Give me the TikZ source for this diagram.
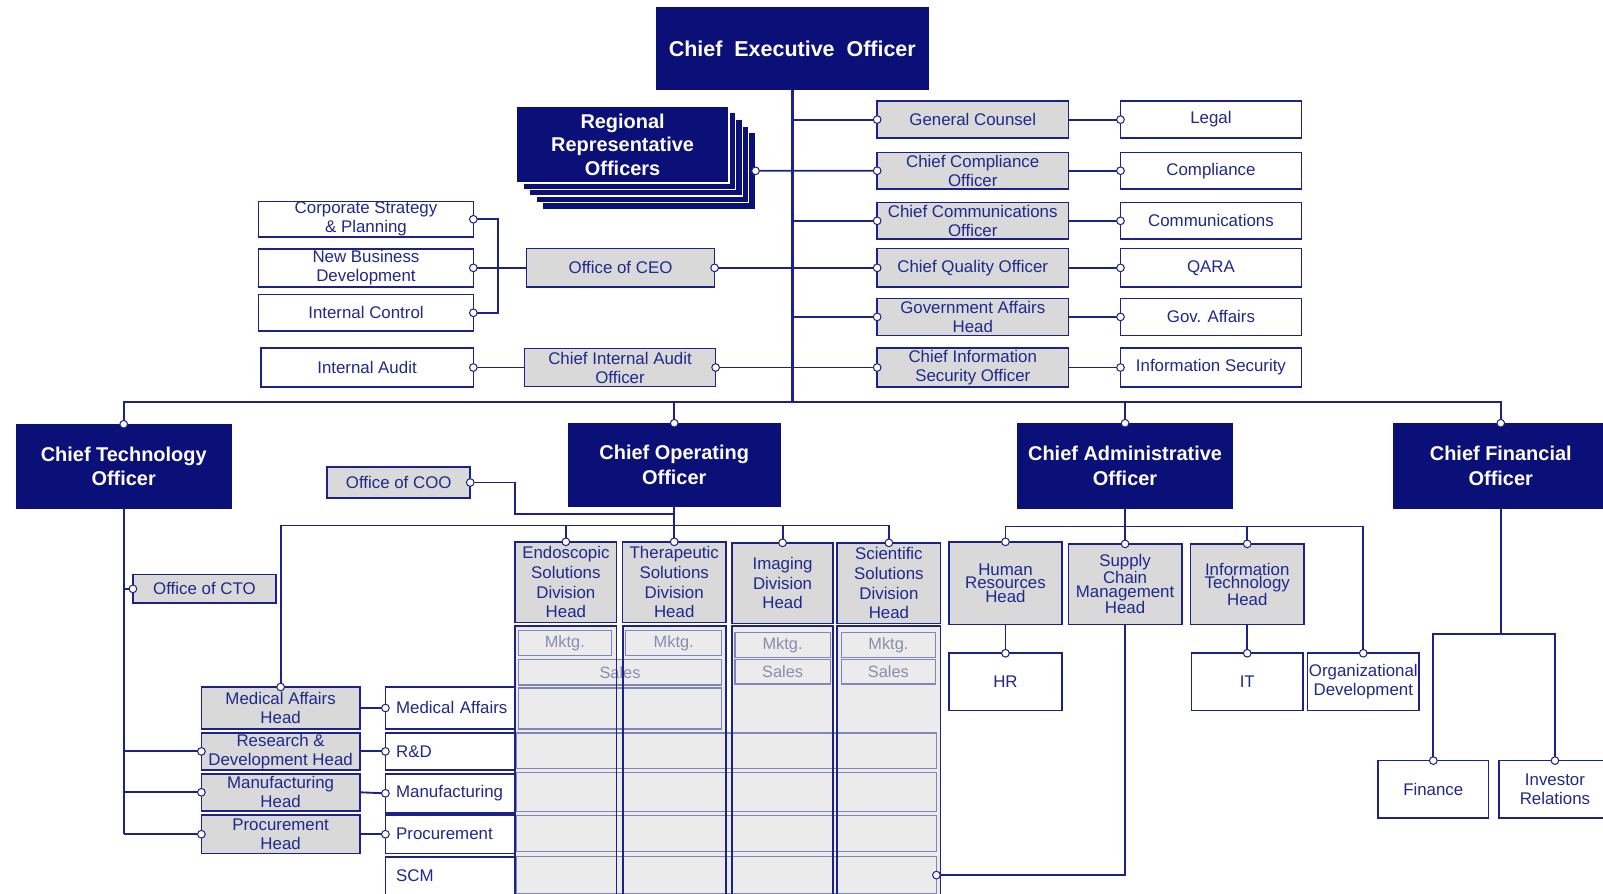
\documentclass[tikz,border=0pt]{standalone}
\usepackage{fontspec}
\setmainfont{Liberation Sans}
\usetikzlibrary{positioning}

\definecolor{navyfill}{RGB}{11,16,120}
\definecolor{navyline}{RGB}{28,34,134}
\definecolor{navytext}{RGB}{32,40,140}
\definecolor{headgray}{RGB}{217,217,217}
\definecolor{panelgray}{RGB}{235,235,235}
\definecolor{subline}{RGB}{128,134,186}
\definecolor{subtext}{RGB}{136,140,176}

\newcommand{\fsz}[2]{\fontsize{#1}{#2}\selectfont}

\begin{document}
\begin{tikzpicture}[
    x=1pt, y=-1pt,
    exec/.style={draw=navyfill, fill=navyfill, text=white, align=center,
        inner sep=0pt, outer sep=0pt, line width=1pt,
        font=\bfseries\fsz{19.5}{24}},
    head/.style={draw=navyline, fill=headgray, text=navytext, align=center,
        inner sep=0pt, outer sep=0pt, line width=1.6pt,
        font=\fsz{16.5}{18.5}},
    unit/.style={head, fill=white},
    panel/.style={fill=panelgray, inner sep=0pt, outer sep=0pt},
    sub/.style={draw=subline, fill=panelgray, text=subtext, align=center,
        inner sep=0pt, outer sep=0pt, line width=1.2pt, font=\fsz{16}{18}},
    link/.style={draw=navyline, line width=1.8pt},
    trunk/.style={draw=navyline, line width=2.6pt},
    dot/.style={circle, draw=navyline, fill=white, line width=1pt,
        minimum size=7.5pt, inner sep=0pt}
]
    \useasboundingbox (0,0) rectangle (1568,874);

    % CEO and regional officers
    \node[exec, minimum width=266pt, minimum height=81pt,
        font=\bfseries\fsz{21}{24}] (ceo) at (775,47.5)
        {Chief\ \ Executive\ \ Officer};
    \foreach \k in {4,...,1} {
        \node[exec, draw=white, line width=1.2pt, minimum width=208pt,
            minimum height=75pt] (rro\k) at (609+6.5*\k, 141.5+6.4*\k) {};
    }
    \node[exec, draw=white, line width=1.2pt, minimum width=208pt,
        minimum height=75pt, font=\bfseries\fsz{19.5}{23}] (rro) at (609,141.5)
        {Regional\\Representative\\Officers};

    % staff heads (right column)
    \node[head, minimum width=187pt, minimum height=36pt] (gc) at (951.5,117) {General Counsel};
    \node[head, minimum width=187pt, minimum height=36pt] (cco) at (951.5,167) {Chief Compliance\\Officer};
    \node[head, minimum width=187pt, minimum height=36pt] (ccomm) at (951.5,216) {Chief Communications\\Officer};
    \node[head, minimum width=187pt, minimum height=38pt] (cqo) at (951.5,262) {Chief Quality Officer};
    \node[head, minimum width=187pt, minimum height=36pt] (gah) at (951.5,310) {Government Affairs\\Head};
    \node[head, minimum width=187pt, minimum height=38pt] (ciso) at (951.5,359.5) {Chief Information\\Security Officer};

    \node[unit, minimum width=177pt, minimum height=36pt] (legal) at (1184.5,117) {Legal};
    \node[unit, minimum width=177pt, minimum height=36pt] (comp) at (1184.5,167) {Compliance};
    \node[unit, minimum width=177pt, minimum height=36pt] (comm) at (1184.5,216) {Communications};
    \node[unit, minimum width=177pt, minimum height=38pt] (qara) at (1184.5,262) {QARA};
    \node[unit, minimum width=177pt, minimum height=36pt] (gov) at (1184.5,310) {Gov. Affairs};
    \node[unit, minimum width=177pt, minimum height=38pt] (infosec) at (1184.5,359.5) {Information Security};

    % office of CEO (left)
    \node[unit, minimum width=210pt, minimum height=35pt] (csp) at (358,214.5) {Corporate Strategy\\\& Planning};
    \node[unit, minimum width=210pt, minimum height=37pt] (nbd) at (358,262) {New Business\\Development};
    \node[unit, minimum width=210pt, minimum height=36pt] (ic) at (358,306) {Internal Control};
    \node[unit, minimum width=208pt, minimum height=38pt] (ia) at (359,359.5) {Internal Audit};
    \node[head, minimum width=184pt, minimum height=38pt] (oceo) at (607,262) {Office of CEO};
    \node[head, minimum width=187pt, minimum height=37pt] (ciao) at (606.5,359.5) {Chief Internal Audit\\Officer};

    % C-level
    \node[exec, minimum width=210pt, minimum height=82pt] (cto) at (121,456) {Chief Technology\\Officer};
    \node[exec, minimum width=207pt, minimum height=81pt] (coo) at (659.5,454.5) {Chief Operating\\Officer};
    \node[exec, minimum width=211pt, minimum height=83pt] (cao) at (1100.5,455.5) {Chief Administrative\\Officer};
    \node[exec, minimum width=210pt, minimum height=83pt] (cfo) at (1468,455.5) {Chief Financial\\Officer};

    \node[head, minimum width=140pt, minimum height=30pt] (ocoo) at (390,472) {Office of COO};
    \node[head, minimum width=140pt, minimum height=28pt] (octo) at (200,576) {Office of CTO};

    % CTO function heads
    \node[head, minimum width=155pt, minimum height=41pt] (mah) at (274.5,692.5) {Medical Affairs\\Head};
    \node[head, minimum width=155pt, minimum height=36pt] (rdh) at (274.5,735) {Research \&\\Development Head};
    \node[head, minimum width=155pt, minimum height=36pt] (mfh) at (274.5,775) {Manufacturing\\Head};
    \node[head, minimum width=155pt, minimum height=38pt] (prh) at (274.5,816) {Procurement\\Head};

    \node[unit, minimum width=127pt, minimum height=41pt, text width=106pt, align=left] (ma) at (440.5,692.5) {\mbox{Medical Affairs}};
    \node[unit, minimum width=127pt, minimum height=36pt, text width=106pt, align=left] (rd) at (440.5,735) {R\&D};
    \node[unit, minimum width=127pt, minimum height=38pt, text width=106pt, align=left] (mf) at (440.5,776) {\mbox{Manufacturing}};
    \node[unit, minimum width=127pt, minimum height=38pt, text width=106pt, align=left] (pr) at (440.5,816) {Procurement};
    \node[unit, minimum width=127pt, minimum height=38pt, text width=106pt, align=left] (scm) at (440.5,857) {SCM};

    % divisions under COO
    \node[head, minimum width=99pt, minimum height=79pt, font=\fsz{16.5}{19.3}] (endo) at (553.5,569.5) {Endoscopic\\Solutions\\Division\\Head};
    \node[head, minimum width=101pt, minimum height=79pt, font=\fsz{16.5}{19.3}] (thera) at (659.5,569.5) {Therapeutic\\Solutions\\Division\\Head};
    \node[head, minimum width=99pt, minimum height=79pt, font=\fsz{16.5}{19.3}] (imag) at (765.5,570.5) {Imaging\\Division\\Head};
    \node[head, minimum width=101pt, minimum height=79pt, font=\fsz{16.5}{19.3}] (sci) at (869.5,570.5) {Scientific\\Solutions\\Division\\Head};

    \node[panel, minimum width=99pt, minimum height=268pt, anchor=north] (endop) at (553.5,612) {};
    \node[panel, minimum width=101pt, minimum height=268pt, anchor=north] (therap) at (659.5,612) {};
    \node[panel, minimum width=99pt, minimum height=268pt, anchor=north] (imagp) at (765.5,612) {};
    \node[panel, minimum width=101pt, minimum height=268pt, anchor=north] (scip) at (869.5,612) {};

    \node[sub, minimum width=91pt, minimum height=24pt] (mk1) at (552.5,629) {Mktg.};
    \node[sub, minimum width=94pt, minimum height=24pt] (mk2) at (659,629) {Mktg.};
    \node[sub, minimum width=93pt, minimum height=24pt] (mk3) at (765.5,631) {Mktg.};
    \node[sub, minimum width=92pt, minimum height=24pt] (mk4) at (869,631) {Mktg.};
    \node[sub, minimum width=199pt, minimum height=25pt] (sl12) at (606.5,657.5) {Sales};
    \node[sub, minimum width=93pt, minimum height=24pt] (sl3) at (765.5,657) {Sales};
    \node[sub, minimum width=92pt, minimum height=24pt] (sl4) at (869,657) {Sales};
    \node[sub, minimum width=199pt, minimum height=40pt] (marow) at (606.5,693) {};
    \node[sub, minimum width=411pt, minimum height=35pt] (rdrow) at (710.5,734.5) {};
    \node[sub, minimum width=411pt, minimum height=38pt] (mfrow) at (710.5,775) {};
    \node[sub, minimum width=411pt, minimum height=35pt] (prrow) at (710.5,815.5) {};
    \node[sub, minimum width=411pt, minimum height=36pt] (scmrow) at (710.5,856) {};

    \foreach \c in {endop, therap, imagp, scip}
        \draw[link] (\c.north west) rectangle (\c.south east);

    % CAO functions
    \node[head, minimum width=111pt, minimum height=81pt, font=\fsz{16.5}{13.5}] (hrh) at (983.5,570.5) {Human\\Resources\\Head};
    \node[head, minimum width=111pt, minimum height=79pt, font=\fsz{16.5}{13.5}] (scmh) at (1100.5,571.5) {Supply\\Chain\\Management\\Head};
    \node[head, minimum width=111pt, minimum height=79pt, font=\fsz{16.5}{13.5}] (ith) at (1220,571.5) {Information\\Technology\\Head};
    \node[unit, minimum width=111pt, minimum height=56pt] (hr) at (983.5,667) {HR};
    \node[unit, minimum width=109pt, minimum height=56pt] (it) at (1220,667) {IT};
    \node[unit, minimum width=109pt, minimum height=56pt] (orgdev) at (1333.5,667) {Organizational\\Development};

    % CFO functions
    \node[unit, minimum width=108pt, minimum height=56pt] (fin) at (1402,772) {Finance};
    \node[unit, minimum width=110pt, minimum height=56pt] (ir) at (1521,772) {Investor\\Relations};

    % bus points
    \coordinate (bus) at (775,393);
    \coordinate (coobus) at (659.5,514);
    \coordinate (coojog) at (504,503);
    \coordinate (caobus) at (1100.5,515);
    \coordinate (cfobus) at (1468,620);
    \coordinate (brk) at (487,262);

    % CEO trunk and C-level bus
    \draw[trunk] (ceo.south) -- (ceo.south |- bus);
    \draw[link] (cto.north) |- (cfo.north |- bus) -- (cfo.north);
    \draw[link] (coo.north) -- (coo.north |- bus);
    \draw[link] (cao.north) -- (cao.north |- bus);

    % staff lines
    \foreach \s in {gc, ccomm, gah}
        \draw[link] (ceo.south |- \s.west) -- (\s.west);
    \draw[link] (rro4.east) -- (cco.west);
    \draw[link] (oceo.east) -- (cqo.west);
    \draw[link] (ciao.east) -- (ciso.west);
    \foreach \a/\b in {gc/legal, cco/comp, ccomm/comm, cqo/qara, gah/gov, ciso/infosec}
        \draw[link] (\a.east) -- (\b.west);
    \draw[link] (csp.east) -| (brk) |- (ic.east);
    \draw[link] (nbd.east) -- (oceo.west);
    \draw[link] (ia.east) -- (ciao.west);

    % CTO
    \draw[link] (cto.south) -- (cto.south |- prh.west);
    \foreach \h in {octo, rdh, mfh, prh}
        \draw[link] (cto.south |- \h.west) -- (\h.west);
    \foreach \a/\b in {mah/ma, rdh/rd, mfh/mf, prh/pr}
        \draw[link] (\a.east) -- (\b.west);

    % COO
    \draw[link] (coo.south) -- (coo.south |- coobus);
    \draw[link] (mah.north) |- (sci.north |- coobus);
    \foreach \d in {endo, thera, imag, sci}
        \draw[link] (\d.north |- coobus) -- (\d.north);
    \draw[link] (ocoo.east) -| (coojog) -- (coojog -| coo.south);

    % CAO
    \draw[link] (cao.south) -- (scmh.north);
    \draw[link] (hrh.north) |- (orgdev.north |- caobus) -- (orgdev.north);
    \draw[link] (ith.north |- caobus) -- (ith.north);
    \draw[link] (hrh.south) -- (hr.north);
    \draw[link] (ith.south) -- (it.north);
    \draw[link] (scmrow.east) -| (scmh.south);

    % CFO
    \draw[link] (cfo.south) -- (cfo.south |- cfobus);
    \draw[link] (fin.north) |- (ir.north |- cfobus) -- (ir.north);

    % connector dots
    \foreach \p [count=\i] in {rro4.east, gc.west, cco.west, ccomm.west, cqo.west,
        gah.west, ciso.west, legal.west, comp.west, comm.west, qara.west,
        gov.west, infosec.west, csp.east, nbd.east, ic.east, ia.east,
        oceo.east, ciao.east, cto.north, coo.north, cao.north, cfo.north,
        ocoo.east, octo.west, endo.north, thera.north, imag.north, sci.north,
        mah.north, rdh.west, mfh.west, prh.west, ma.west, rd.west, mf.west,
        pr.west, scmrow.east, hrh.north, scmh.north, ith.north, hr.north,
        it.north, orgdev.north, fin.north, ir.north} {
        \node[dot] (pin\i) at (\p) {};
    }
\end{tikzpicture}
\end{document}
